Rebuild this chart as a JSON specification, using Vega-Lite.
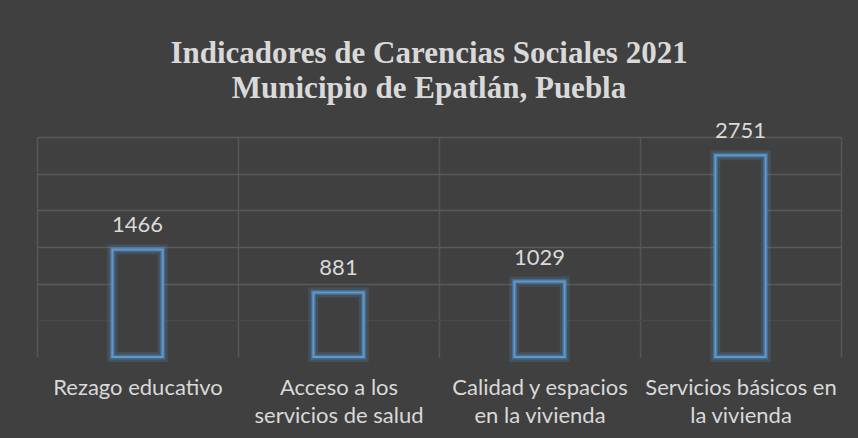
{
  "$schema": "https://vega.github.io/schema/vega-lite/v6.json",
  "autosize": "none",
  "width": 804,
  "height": 220,
  "padding": {"left": 37, "top": 137, "right": 17, "bottom": 81},
  "background": "#404040",
  "config": {
    "view": {"stroke": null},
    "font": "Lato"
  },
  "title": {
    "text": ["Indicadores de Carencias Sociales 2021", "Municipio de Epatlán, Puebla"],
    "font": "Liberation Serif",
    "fontSize": 31,
    "fontWeight": "bold",
    "color": "#d9d9d9",
    "lineHeight": 35,
    "anchor": "middle",
    "dx": -10,
    "offset": -9,
    "baseline": "alphabetic"
  },
  "data": {
    "values": [
      {"categoria": "Rezago educativo", "valor": 1466},
      {"categoria": "Acceso a los|servicios de salud", "valor": 881},
      {"categoria": "Calidad y espacios|en la vivienda", "valor": 1029},
      {"categoria": "Servicios básicos en|la vivienda", "valor": 2751}
    ]
  },
  "encoding": {
    "x": {
      "field": "categoria",
      "type": "nominal",
      "sort": null,
      "scale": {"paddingInner": 0, "paddingOuter": 0},
      "axis": {
        "title": null,
        "labelAngle": 0,
        "labelExpr": "split(datum.label, '|')",
        "labelFont": "Lato",
        "labelFontSize": 22,
        "labelColor": "#d9d9d9",
        "labelLineHeight": 28,
        "labelPadding": 20,
        "labelBaseline": "top",
        "labelLimit": 0,
        "tickBand": "extent",
        "ticks": false,
        "domain": false,
        "grid": true,
        "gridColor": "#565656",
        "gridWidth": 1.5
      }
    },
    "y": {
      "field": "valor",
      "type": "quantitative",
      "scale": {"domain": [0, 3000], "nice": false},
      "axis": {
        "title": null,
        "labels": false,
        "ticks": false,
        "domain": false,
        "values": [500, 1000, 1500, 2000, 2500, 3000],
        "grid": true,
        "gridColor": {"condition": {"test": "datum.value == 500", "value": "#494949"}, "value": "#5a5a5a"},
        "gridWidth": 1.5
      }
    }
  },
  "layer": [
    {
      "mark": {"type": "bar", "width": {"band": 0.25}, "fill": "#404040", "stroke": "#5B9BD5", "strokeWidth": 10, "strokeOpacity": 0.18}
    },
    {
      "mark": {"type": "bar", "width": {"band": 0.25}, "fill": "#404040", "fillOpacity": 0, "stroke": "#5B9BD5", "strokeWidth": 5, "strokeOpacity": 0.35}
    },
    {
      "mark": {"type": "bar", "width": {"band": 0.25}, "fill": "#404040", "fillOpacity": 0, "stroke": "#5B9BD5", "strokeWidth": 2}
    },
    {
      "mark": {"type": "text", "dy": -17, "baseline": "alphabetic", "font": "Lato", "fontSize": 22, "color": "#d9d9d9"},
      "encoding": {"text": {"field": "valor", "type": "quantitative"}}
    }
  ]
}
